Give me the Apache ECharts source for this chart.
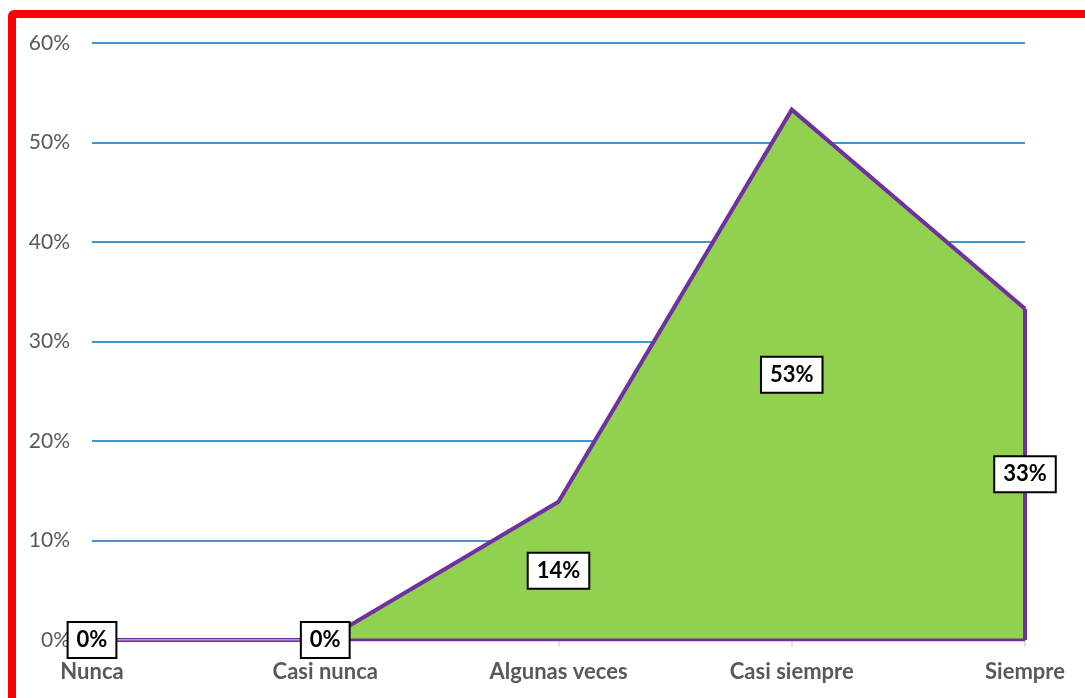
<!DOCTYPE html>
<html>
<head>
<meta charset="utf-8">
<style>
  html, body { margin: 0; padding: 0; background: #ffffff; overflow: hidden; }
  #chart { position: absolute; left: 0; top: 0; width: 1085px; height: 698px; }
  #frame {
    position: absolute; left: 8px; top: 10px; width: 2000px; height: 2000px;
    border: 8px solid #ff0000; border-radius: 6px; pointer-events: none;
  }
</style>
<script src="https://cdn.jsdelivr.net/npm/echarts@6/dist/echarts.min.js"></script>
</head>
<body>
<div id="chart"></div>
<div id="frame"></div>
<script>
// Frecuencia de respuestas (%)
const categories = ['Nunca', 'Casi nunca', 'Algunas veces', 'Casi siempre', 'Siempre'];
const values = [0, 0, 13.9, 53.3, 33.3];
const yTicks = [0, 10, 20, 30, 40, 50, 60];

const FONT = 'Lato, "Open Sans", sans-serif';
const PURPLE = '#7030A0';
const GREEN = '#92D050';
const last = categories.length - 1;

const chart = echarts.init(document.getElementById('chart'));
chart.setOption({
  backgroundColor: '#ffffff',
  animation: false,
  grid: { left: 92, right: 60, top: 43, bottom: 58 },
  xAxis: {
    type: 'category',
    data: categories,
    boundaryGap: false,
    axisLine: { show: true, lineStyle: { color: '#D9D9D9', width: 1 } },
    axisTick: { show: true, length: 7, lineStyle: { color: '#D9D9D9', width: 1.5 } },
    axisLabel: {
      color: '#595959', fontFamily: FONT, fontWeight: 'bold', fontSize: 22,
      margin: 21, interval: 0
    },
    splitLine: { show: false }
  },
  yAxis: {
    type: 'value',
    min: yTicks[0],
    max: yTicks[yTicks.length - 1],
    interval: yTicks[1] - yTicks[0],
    axisLine: { show: false },
    axisTick: { show: false },
    axisLabel: {
      color: '#595959', fontFamily: FONT, fontSize: 21, margin: 22,
      formatter: '{value}%'
    },
    splitLine: { show: true, lineStyle: { color: '#0070C0', width: 1.5 } }
  },
  series: [
    {
      // filled area with its outline
      type: 'line',
      data: values,
      symbol: 'none',
      lineStyle: { color: PURPLE, width: 4, join: 'miter' },
      areaStyle: { color: GREEN, opacity: 1 },
      z: 2
    },
    {
      // bottom edge of the area
      type: 'line',
      data: values.map(() => 0),
      symbol: 'none',
      lineStyle: { color: PURPLE, width: 3 },
      z: 3
    },
    {
      // closing edge on the last category
      type: 'line',
      data: [[categories[last], 0], [categories[last], values[last]]],
      symbol: 'none',
      lineStyle: { color: PURPLE, width: 4 },
      z: 3
    },
    {
      // light core on the empty stretch of the outline
      type: 'line',
      data: values.map((v, i) => (i < 2 ? 0 : null)),
      symbol: 'none',
      lineStyle: { color: '#ffffff', width: 1 },
      z: 4
    },
    {
      // value labels, centred in the filled height of each category
      type: 'scatter',
      data: values.map((v, i) => [categories[i], v / 2]),
      symbolSize: 0,
      itemStyle: { opacity: 1 },
      z: 10,
      label: {
        show: true,
        position: 'inside',
        opacity: 1,
        formatter: (p) => Math.round(values[p.dataIndex]) + '%',
        color: '#000000',
        fontFamily: FONT,
        fontWeight: 'bold',
        fontSize: 22,
        backgroundColor: '#ffffff',
        borderColor: '#000000',
        borderWidth: 2,
        padding: [7, 8, 5, 8]
      }
    }
  ]
});
</script>
</body>
</html>
